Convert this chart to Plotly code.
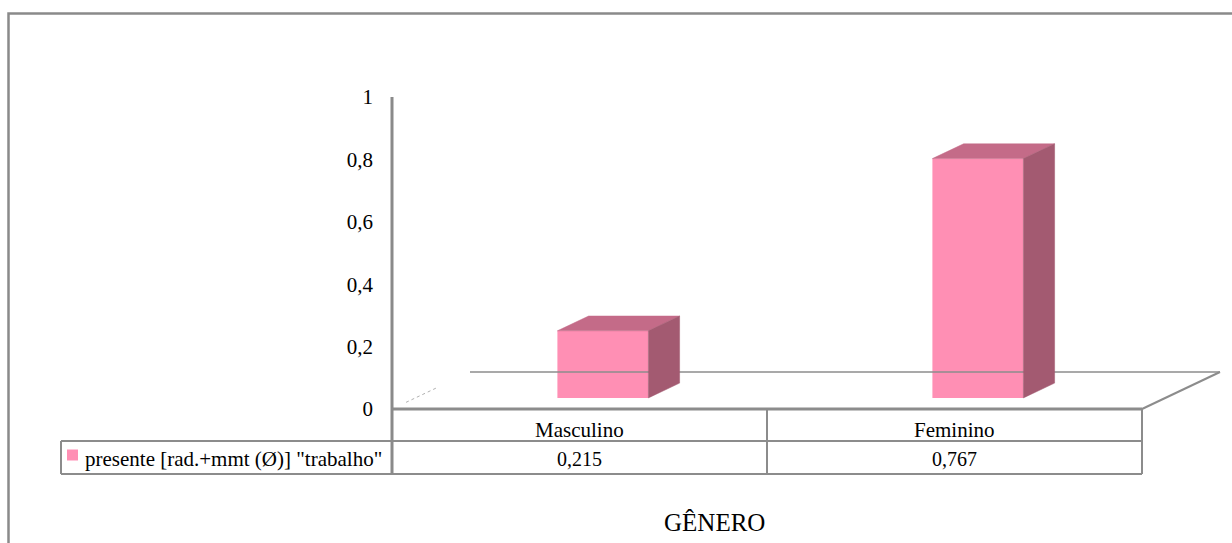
import plotly.graph_objects as go

# ---- data -------------------------------------------------------------
categorias = ["Masculino", "Feminino"]
valores = [0.215, 0.767]
rotulos_valores = ["0,215", "0,767"]
serie_nome = 'presente [rad.+mmt (Ø)] "trabalho"'
eixo_ticks = [0, 0.2, 0.4, 0.6, 0.8, 1]
eixo_rotulos = ["0", "0,2", "0,4", "0,6", "0,8", "1"]
titulo_eixo = "GÊNERO"

# ---- geometry -----------------------------------------------------------
W, H = 1232, 543
X0_PX, CAT_PX = 392, 375      # left edge of the category area, pixels per category
Y0_PX, UNIT_PX = 409, 312     # baseline row, pixels per value unit


def ux(p):
    return (p - X0_PX) / CAT_PX


def uy(p):
    return (Y0_PX - p) / UNIT_PX


# oblique depth of the floor, in axis units
DX, DY = 78 / CAT_PX, 37 / UNIT_PX
D0, D1 = 0.3, 0.7             # slice of the depth taken by the bars
BAR_W = 91 / CAT_PX

FRONT = "#FF8FB4"
TOP = "#C46B88"
SIDE = "#A35A71"
GRID = "#8C8C8C"
FONT = "Liberation Serif"

n = len(categorias)
fig = go.Figure()


def line(xs, ys, color=GRID, width=2, dash="solid"):
    fig.add_trace(go.Scatter(x=xs, y=ys, mode="lines", hoverinfo="skip",
                             line=dict(color=color, width=width, dash=dash),
                             showlegend=False))


def poly(xs, ys, color):
    fig.add_trace(go.Scatter(x=xs + [xs[0]], y=ys + [ys[0]], mode="lines",
                             fill="toself", fillcolor=color, hoverinfo="skip",
                             line=dict(color=color, width=0.5), showlegend=False))


# outer chart-area frame
line([ux(8.5), ux(8.5), ux(W)], [uy(H), uy(13.5), uy(13.5)], color="#8A8A8A", width=2.5)

# floor: back edge, right diagonal, faint left diagonal
line([DX, n + DX], [DY, DY], width=1.6)
line([n, n + DX], [0, DY], width=2)
line([0.18 * DX, 0.59 * DX], [0.18 * DY, 0.59 * DY], color="#B0B0B0", width=1, dash="dot")

# bars: front faces
centros = [i + 0.5 + D0 * DX for i in range(n)]
fig.add_trace(go.Bar(x=centros, y=valores, base=D0 * DY, width=BAR_W,
                     marker=dict(color=FRONT, line=dict(width=0)),
                     name=serie_nome, showlegend=False, hoverinfo="skip"))

# bars: top and side faces
ddx, ddy = (D1 - D0) * DX, (D1 - D0) * DY
for c, v in zip(centros, valores):
    xl, xr = c - BAR_W / 2, c + BAR_W / 2
    b = D0 * DY
    t = b + v
    poly([xl, xr, xr + ddx, xl + ddx], [t, t, t + ddy, t + ddy], TOP)
    poly([xr, xr + ddx, xr + ddx, xr], [b, b + ddy, t + ddy, t], SIDE)

# data table grid
row_mid, row_bot = uy(441), uy(474)
leg_left = ux(61)
line([0, n], [0, 0], width=3)
line([leg_left, n], [row_mid, row_mid], width=2)
line([leg_left, n], [row_bot, row_bot], width=2)
line([leg_left, leg_left], [row_mid, row_bot], width=2)
for i in range(1, n + 1):
    line([i, i], [0, row_bot], width=2)

# value axis line (runs down through the table)
line([0, 0], [row_bot, 1], color="#8A8A8A", width=3)

# legend key inside the table
fig.add_trace(go.Scatter(x=[ux(72.5)], y=[uy(455)], mode="markers", hoverinfo="skip",
                         marker=dict(symbol="square", size=11, color=FRONT),
                         showlegend=False))

ann = []
for i, (cat, lab) in enumerate(zip(categorias, rotulos_valores)):
    ann.append(dict(x=i + 0.5, y=uy(430), text=cat, showarrow=False,
                    font=dict(family=FONT, size=21, color="black")))
    ann.append(dict(x=i + 0.5, y=uy(459), text=lab, showarrow=False,
                    font=dict(family=FONT, size=20, color="black")))
ann.append(dict(x=ux(83), y=uy(459), text=serie_nome, showarrow=False, xanchor="left",
                font=dict(family=FONT, size=21, color="black")))
ann.append(dict(x=ux(714), y=uy(522), text=titulo_eixo, showarrow=False,
                font=dict(family=FONT, size=25, color="black")))

fig.update_layout(
    width=W, height=H,
    margin=dict(l=0, r=0, t=0, b=0),
    paper_bgcolor="white", plot_bgcolor="white",
    font=dict(family=FONT, color="black"),
    annotations=ann,
    xaxis=dict(range=[ux(0), ux(W)], visible=False, fixedrange=True),
    yaxis=dict(range=[uy(H), uy(0)], anchor="free", position=X0_PX / W,
               tickvals=eixo_ticks, ticktext=eixo_rotulos, ticks="",
               ticklabelstandoff=19, showgrid=False, zeroline=False, showline=False,
               tickfont=dict(family=FONT, size=21, color="black"), fixedrange=True),
)

fig.write_html("out.html")
